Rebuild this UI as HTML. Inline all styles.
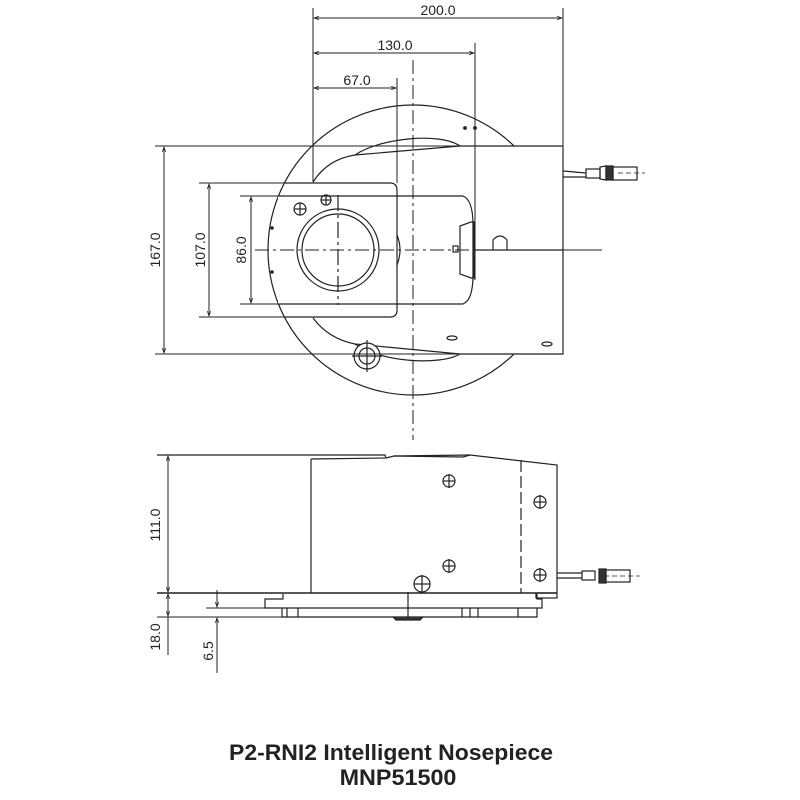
<!DOCTYPE html>
<html><head><meta charset="utf-8"><style>
html,body{margin:0;padding:0;background:#fff;}
svg{display:block}
text{font-family:"Liberation Sans",sans-serif;fill:#222}
</style></head><body>
<svg width="800" height="800" viewBox="0 0 800 800" xmlns="http://www.w3.org/2000/svg">
<defs>
<marker id="a" viewBox="0 0 10 10" refX="10" refY="5" markerWidth="7" markerHeight="5" orient="auto-start-reverse"><path d="M0,1.5 L10,5 L0,8.5" fill="none" stroke="#222" stroke-width="1.5"/></marker>
</defs>
<g stroke="#222" stroke-width="1.2" fill="none">
<!-- TOP VIEW -->
<circle cx="413" cy="250" r="145" fill="#fff"/>
<!-- housing -->
<path d="M313,182 C322,168 335,158 355,155 L460,146 L563,146 L563,354 L460,354 L355,344 C335,340 322,330 313,318" fill="#fff"/>
<path d="M355,155 C380,138 440,132 460,146" />
<path d="M355,344 C380,362 440,366 460,354" />
<!-- plate 107 -->
<path d="M285,183 L390,183 Q397,183 397,190 L397,310 Q397,317 390,317 L285,317" fill="#fff"/>
<!-- inner 86 -->
<path d="M278,196 L463,196 Q473,200 473,225 L473,275 Q473,300 463,304 L278,304" fill="#fff"/>
<line x1="397" y1="196" x2="397" y2="304"/>
<path d="M397,235 Q403,250 397,265"/>
<circle cx="338" cy="250" r="41"/>
<circle cx="338" cy="250" r="36"/>
<line x1="338" y1="195" x2="338" y2="305" stroke-dasharray="16,4,3,4"/>
<circle cx="300" cy="209" r="6"/><line x1="294" y1="209" x2="306" y2="209"/><line x1="300" y1="203" x2="300" y2="215"/>
<circle cx="326" cy="200" r="5"/><line x1="321" y1="200" x2="331" y2="200"/><line x1="326" y1="195" x2="326" y2="205"/>
<!-- latch -->
<path d="M460,226 L471,222 L474,222 L474,278 L471,278 L460,274 Z"/>
<rect x="453" y="246" width="5" height="6"/>
<path d="M493,250 L493,240 Q500,232 507,240 L507,250"/>
<line x1="475" y1="250" x2="563" y2="250"/>
<line x1="255" y1="250" x2="475" y2="250" stroke-dasharray="14,4,3,4" stroke-width="1"/>
<line x1="563" y1="250" x2="602" y2="250" stroke-width="1"/>
<!-- bottom hole -->
<circle cx="367" cy="356" r="13" fill="#fff"/>
<circle cx="367" cy="356" r="8"/>
<line x1="352" y1="356" x2="382" y2="356"/><line x1="367" y1="340" x2="367" y2="372"/>
<ellipse cx="452" cy="338" rx="5" ry="2"/><ellipse cx="547" cy="344" rx="5" ry="2"/>
<circle cx="465" cy="128" r="1.3" fill="#222"/><circle cx="475" cy="128" r="1.3" fill="#222"/>
<circle cx="272" cy="228" r="1.2" fill="#222"/><circle cx="272" cy="272" r="1.2" fill="#222"/>
<!-- centerline vertical -->
<line x1="413" y1="60" x2="413" y2="440" stroke-dasharray="14,4,3,4" stroke-width="1"/>
<!-- connector top -->
<path d="M563,171 L586,173 M563,177 L586,177"/>
<rect x="586" y="169" width="14" height="9"/>
<path d="M600,167 L606,166 L606,180 L600,179 Z"/>
<rect x="606" y="166" width="7" height="14" fill="#333"/>
<rect x="613" y="167" width="24" height="13"/>
<line x1="618" y1="173" x2="645" y2="173" stroke-dasharray="5,3" stroke-width="0.8"/>
<!-- dims top -->
<line x1="313" y1="8" x2="313" y2="182" stroke-width="1"/>
<line x1="563" y1="8" x2="563" y2="146" stroke-width="1"/>
<line x1="475" y1="43" x2="475" y2="280" stroke-width="1"/>
<line x1="397" y1="78" x2="397" y2="183" stroke-width="1"/>
<line x1="314" y1="18" x2="562" y2="18" stroke-width="1" marker-start="url(#a)" marker-end="url(#a)"/>
<line x1="314" y1="53" x2="474" y2="53" stroke-width="1" marker-start="url(#a)" marker-end="url(#a)"/>
<line x1="314" y1="88" x2="396" y2="88" stroke-width="1" marker-start="url(#a)" marker-end="url(#a)"/>
<line x1="155" y1="146" x2="563" y2="146" stroke-width="1"/>
<line x1="155" y1="354" x2="460" y2="354" stroke-width="1"/>
<line x1="199" y1="183" x2="285" y2="183" stroke-width="1"/>
<line x1="199" y1="317" x2="285" y2="317" stroke-width="1"/>
<line x1="240" y1="196" x2="278" y2="196" stroke-width="1"/>
<line x1="240" y1="304" x2="278" y2="304" stroke-width="1"/>
<line x1="164" y1="147" x2="164" y2="353" stroke-width="1" marker-start="url(#a)" marker-end="url(#a)"/>
<line x1="209" y1="184" x2="209" y2="316" stroke-width="1" marker-start="url(#a)" marker-end="url(#a)"/>
<line x1="251" y1="197" x2="251" y2="303" stroke-width="1" marker-start="url(#a)" marker-end="url(#a)"/>

<!-- SIDE VIEW -->
<path d="M157,455 L385,455 L386,458 L394,456 L470,455 L557,465 L557,593"/>
<path d="M311,459 L385,458 M394,456 L463,457 L470,455 M311,459 L311,593"/>
<line x1="521" y1="460" x2="521" y2="593" stroke-dasharray="12,4"/>
<g>
<circle cx="449" cy="481" r="6"/><line x1="443" y1="481" x2="455" y2="481"/><line x1="449" y1="474" x2="449" y2="488"/>
<circle cx="540" cy="502" r="6"/><line x1="534" y1="502" x2="546" y2="502"/><line x1="540" y1="495" x2="540" y2="509"/>
<circle cx="449" cy="566" r="6"/><line x1="443" y1="566" x2="455" y2="566"/><line x1="449" y1="559" x2="449" y2="573"/>
<circle cx="540" cy="575" r="6"/><line x1="534" y1="575" x2="546" y2="575"/><line x1="540" y1="568" x2="540" y2="582"/>
<circle cx="422" cy="584" r="8"/><line x1="414" y1="584" x2="430" y2="584"/><line x1="422" y1="575" x2="422" y2="593"/>
</g>
<line x1="157" y1="593" x2="557" y2="593" stroke-width="1.5"/>
<path d="M283,594 L283,599 L265,599 L265,608 L542,608 L542,599 L537,599 L537,594"/>
<path d="M282,608 L282,617 L537,617 L537,608"/>
<rect x="536" y="593" width="21" height="5"/>
<path d="M393,617 L396,620 L420,620 L423,617" fill="#333"/>
<line x1="408" y1="592" x2="408" y2="617"/>
<line x1="287" y1="608" x2="287" y2="617"/><line x1="298" y1="608" x2="298" y2="617"/>
<line x1="462" y1="608" x2="462" y2="617"/><line x1="470" y1="608" x2="470" y2="617"/><line x1="478" y1="608" x2="478" y2="617"/>
<line x1="518" y1="608" x2="518" y2="617"/>
<!-- connector side -->
<path d="M557,573 L582,573 M557,578 L582,578"/>
<rect x="582" y="571" width="13" height="9"/>
<rect x="599" y="569" width="7" height="14" fill="#333"/>
<rect x="606" y="570" width="24" height="12"/>
<line x1="604" y1="576" x2="640" y2="576" stroke-dasharray="5,3" stroke-width="0.8"/>
<!-- side dims -->
<line x1="157" y1="617" x2="282" y2="617" stroke-width="1"/>
<line x1="206" y1="608" x2="265" y2="608" stroke-width="1"/>
<line x1="168" y1="456" x2="168" y2="592" stroke-width="1" marker-start="url(#a)" marker-end="url(#a)"/>
<line x1="168" y1="594" x2="168" y2="616" stroke-width="1" marker-start="url(#a)" marker-end="url(#a)"/>
<line x1="168" y1="617" x2="168" y2="655" stroke-width="1"/>
<line x1="217" y1="590" x2="217" y2="607" stroke-width="1" marker-end="url(#a)"/>
<line x1="217" y1="673" x2="217" y2="618" stroke-width="1" marker-end="url(#a)"/>
</g>
<g font-size="14">
<text x="438" y="15" text-anchor="middle">200.0</text>
<text x="395" y="50" text-anchor="middle">130.0</text>
<text x="357" y="85" text-anchor="middle">67.0</text>
<text transform="translate(160,250) rotate(-90)" text-anchor="middle">167.0</text>
<text transform="translate(205,250) rotate(-90)" text-anchor="middle">107.0</text>
<text transform="translate(246,250) rotate(-90)" text-anchor="middle">86.0</text>
<text transform="translate(160,525) rotate(-90)" text-anchor="middle">111.0</text>
<text transform="translate(160,637) rotate(-90)" text-anchor="middle">18.0</text>
<text transform="translate(213,651) rotate(-90)" text-anchor="middle">6.5</text>
</g>
<g font-weight="bold" font-size="22" text-anchor="middle">
<text x="0" y="0" transform="translate(391,760) scale(0.8,1)" textLength="405" lengthAdjust="spacingAndGlyphs">P2-RNI2 Intelligent Nosepiece</text>
<text x="0" y="0" transform="translate(398,785) scale(0.8,1)" textLength="146" lengthAdjust="spacingAndGlyphs">MNP51500</text>
</g>
</svg>
</body></html>
